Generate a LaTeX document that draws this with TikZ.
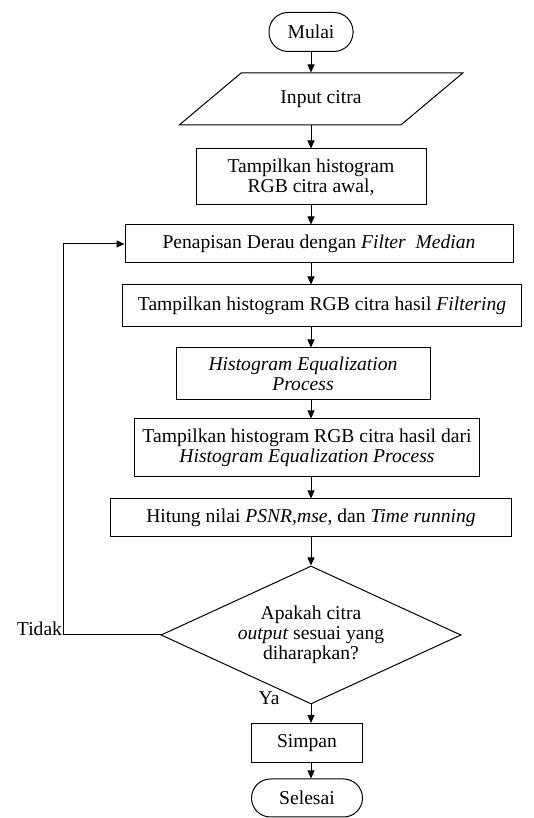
\documentclass[tikz,border=0pt]{standalone}
\usepackage{fontspec}
\setmainfont{Liberation Serif}
\usetikzlibrary{
  arrows.meta,
  positioning,
  shapes.geometric
}

\begin{document}
\begin{tikzpicture}[
            x=1pt, y=1pt,
            node distance=67pt,
            font=\fontsize{19.6}{20}\selectfont,
            line width=1pt,
            % Stili dei blocchi
            terminal/.style={rectangle, rounded corners=19pt, minimum height=39pt, text centered, draw=black, fill=white},
            process/.style={rectangle, align=center, draw=black, fill=white},
            io/.style={trapezium, trapezium left angle=35, trapezium right angle=145, trapezium stretches=true, minimum width=284pt, minimum height=52pt, text centered, draw=black, fill=white},
            decision/.style={diamond, aspect=2.17, inner sep=0pt, minimum width=300pt, minimum height=138pt, align=center, draw=black, fill=white},
            arrow/.style={-{Triangle[length=8pt,width=7pt]}},
            answer/.style={inner sep=1pt}
        ]
        \useasboundingbox (0,0) rectangle (533,818);

        % Nodi
        \node (start) [terminal, minimum width=84pt] at (311,786) {Mulai};
        \node (input) [io, below of=start, xshift=10pt] {Input citra};
        \node (awal) [process, below of=input, xshift=-10pt, yshift=-11pt, minimum width=230pt, minimum height=56pt] {Tampilkan histogram\\RGB citra awal,};
        \node (pen) [process, below of=awal, xshift=8pt, minimum width=388pt, minimum height=38pt] {Penapisan Derau dengan \textit{Filter\ \ Median}};
        \node (filt) [process, below of=pen, xshift=3pt, yshift=5pt, minimum width=399pt, minimum height=42pt] {Tampilkan histogram RGB citra hasil \textit{Filtering}};
        \node (he) [process, below of=filt, xshift=-19pt, yshift=-1pt, minimum width=254pt, minimum height=52pt] {\textit{Histogram Equalization}\\\textit{Process}};
        \node (dari) [process, below of=he, xshift=4pt, yshift=-7pt, minimum width=345pt, minimum height=58pt] {Tampilkan histogram RGB citra hasil dari\\\textit{Histogram Equalization Process}};
        \node (hitung) [process, below of=dari, xshift=4pt, yshift=-3pt, minimum width=401pt, minimum height=38pt] {Hitung nilai \textit{PSNR},\textit{mse}, dan \textit{Time running}};

        % Keputusan
        \node (dec) [decision, below of=hitung, yshift=-50pt] {Apakah citra\\\textit{output} sesuai yang\\diharapkan?};

        \node (simpan) [process, below of=dec, xshift=-4pt, yshift=-41pt, minimum width=111pt, minimum height=39pt] {Simpan};
        \node (stop) [terminal, below of=simpan, yshift=12pt, minimum width=111pt, minimum height=38pt] {Selesai};

        % Collegamenti
        \draw [arrow] (start.south) -- (input.north -| start);
        \draw [arrow] (input.south -| start) -- (awal.north -| start);
        \draw [arrow] (awal.south -| start) -- (pen.north -| start);
        \draw [arrow] (pen.south -| start) -- (filt.north -| start);
        \draw [arrow] (filt.south -| start) -- (he.north -| start);
        \draw [arrow] (he.south -| start) -- (dari.north -| start);
        \draw [arrow] (dari.south -| start) -- (hitung.north -| start);
        \draw [arrow] (hitung.south -| start) -- (dec.north);
        \draw [arrow] (dec.south) -- node[answer, pos=0, anchor=east, xshift=-30pt, yshift=6pt] {Ya} (simpan.north -| dec);
        \draw [arrow] (simpan.south -| dec) -- (stop.north -| dec);

        % Ritorno al filtro (Tidak)
        \draw [arrow] (dec.west) -- ++(-97pt,0) node[answer, anchor=east, yshift=6pt] {Tidak} |- (pen.west);

    \end{tikzpicture}
\end{document}
